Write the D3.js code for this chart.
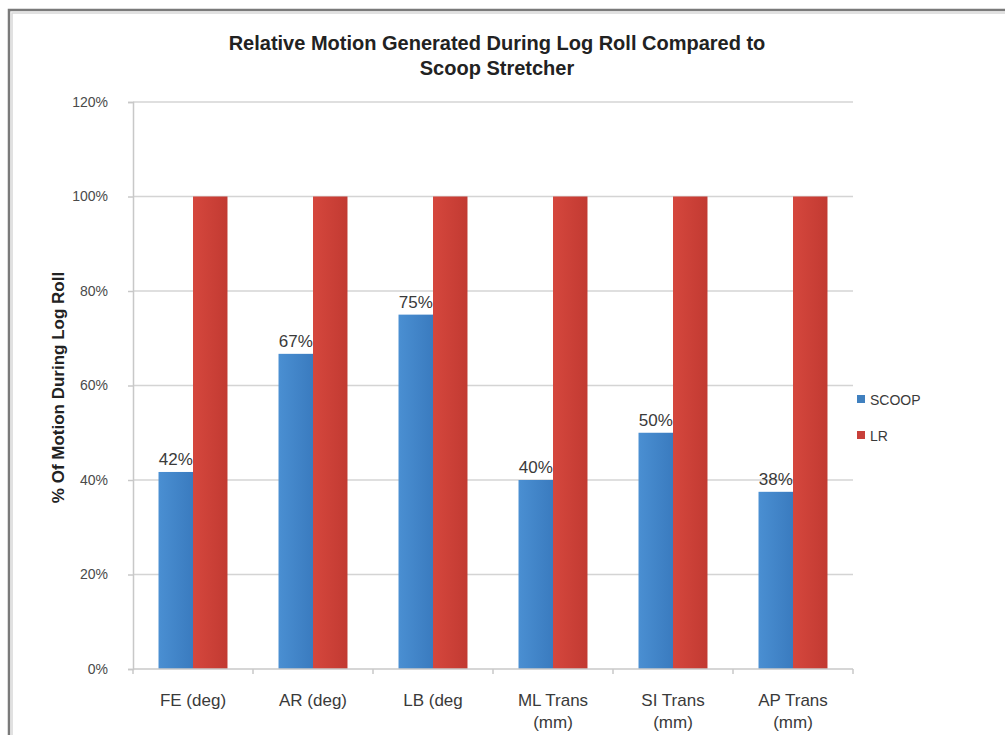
<!DOCTYPE html>
<html>
<head>
<meta charset="utf-8">
<script src="https://cdn.jsdelivr.net/npm/d3@7"></script>
<style>
  body { margin: 0; background: #fff; }
  text { font-family: "Liberation Sans", Arial, sans-serif; }
</style>
</head>
<body>
<svg id="chart"></svg>
<script>
// Données du graphique
const categories = ["FE (deg)", "AR (deg)", "LB (deg", "ML Trans (mm)", "SI Trans (mm)", "AP Trans (mm)"];
const scoopValues = [0.417, 0.667, 0.75, 0.40, 0.50, 0.375];
const lrValues = [1, 1, 1, 1, 1, 1];
const seriesNames = ["SCOOP", "LR"];
const yTicks = [0, 0.2, 0.4, 0.6, 0.8, 1.0, 1.2];

const width = 1005;
const height = 735;
const plot = { left: 133, right: 853, top: 102, bottom: 669 };

const svg = d3.select("#chart")
    .attr("width", width)
    .attr("height", height);

// Dégradés des barres
const defs = svg.append("defs");
function gradient(id, c1, c2) {
    const gr = defs.append("linearGradient").attr("id", id)
        .attr("x1", 0).attr("x2", 1).attr("y1", 0).attr("y2", 0);
    gr.append("stop").attr("offset", "0%").attr("stop-color", c1);
    gr.append("stop").attr("offset", "100%").attr("stop-color", c2);
}
gradient("gBlue", "#4a8fd2", "#3a7bbf");
gradient("gRed", "#d5473d", "#c23a32");

// Cadre gris
svg.append("path")
    .attr("d", `M9,${height} V10 H${width}`)
    .attr("fill", "none")
    .attr("stroke", "#7a7a7a")
    .attr("stroke-width", 2.5);
svg.append("path")
    .attr("d", `M12,${height} V13 H${width}`)
    .attr("fill", "none")
    .attr("stroke", "#d8d8d8")
    .attr("stroke-width", 1.5);

// Échelles
const x = d3.scaleBand()
    .domain(categories)
    .range([plot.left, plot.right]);

const x1 = d3.scaleBand()
    .domain(seriesNames)
    .range([0, x.bandwidth()])
    .paddingInner(0)
    .paddingOuter(0.74);

const y = d3.scaleLinear()
    .domain([0, 1.2])
    .range([plot.bottom, plot.top]);

// Grille
svg.append("g")
    .selectAll("line")
    .data(yTicks.filter(d => d > 0))
    .enter().append("line")
    .attr("x1", plot.left)
    .attr("x2", plot.right)
    .attr("y1", d => y(d))
    .attr("y2", d => y(d))
    .attr("stroke", "#d4d4d4")
    .attr("stroke-width", 1.5);

// Axe Y
const yAxis = svg.append("g")
    .attr("transform", `translate(${plot.left},0)`)
    .call(d3.axisLeft(y).tickValues(yTicks).tickFormat(d3.format(".0%")).tickSize(5).tickPadding(20));
yAxis.select(".domain").attr("stroke", "#c8c8c8").attr("stroke-width", 1.5);
yAxis.selectAll(".tick line").attr("stroke", "#c8c8c8").attr("stroke-width", 1.5);
yAxis.selectAll("text")
    .attr("fill", "#4a4a4a")
    .style("font-size", "14px")
    .style("font-family", "'Liberation Sans', Arial, sans-serif");

// Barres
const data = categories.map((c, i) => ({
    cat: c,
    values: [
        { key: "SCOOP", value: scoopValues[i] },
        { key: "LR", value: lrValues[i] }
    ]
}));

const groups = svg.append("g")
    .selectAll("g")
    .data(data)
    .enter().append("g")
    .attr("transform", d => `translate(${x(d.cat)},0)`);

groups.selectAll("rect")
    .data(d => d.values)
    .enter().append("rect")
    .attr("x", d => x1(d.key))
    .attr("width", x1.bandwidth())
    .attr("y", d => y(d.value))
    .attr("height", d => y(0) - y(d.value))
    .attr("fill", d => d.key === "SCOOP" ? "url(#gBlue)" : "url(#gRed)");

// Étiquettes des valeurs SCOOP
groups.append("text")
    .attr("x", x1("SCOOP") + x1.bandwidth() / 2)
    .attr("y", d => y(d.values[0].value) - 7)
    .attr("text-anchor", "middle")
    .attr("fill", "#3a3a3a")
    .style("font-size", "17px")
    .text(d => d3.format(".0%")(d.values[0].value));

// Axe X
svg.append("line")
    .attr("x1", plot.left).attr("x2", plot.right)
    .attr("y1", plot.bottom).attr("y2", plot.bottom)
    .attr("stroke", "#c8c8c8").attr("stroke-width", 1.5);

svg.append("g")
    .selectAll("line")
    .data(d3.range(categories.length + 1))
    .enter().append("line")
    .attr("x1", i => plot.left + i * x.bandwidth())
    .attr("x2", i => plot.left + i * x.bandwidth())
    .attr("y1", plot.bottom)
    .attr("y2", plot.bottom + 5)
    .attr("stroke", "#c8c8c8").attr("stroke-width", 1.5);

// Libellés des catégories (sur deux lignes si besoin)
const xLabels = svg.append("g")
    .selectAll("text")
    .data(categories)
    .enter().append("text")
    .attr("x", d => x(d) + x.bandwidth() / 2)
    .attr("y", plot.bottom + 37)
    .attr("text-anchor", "middle")
    .attr("fill", "#3a3a3a")
    .style("font-size", "17px");

xLabels.each(function(d) {
    const parts = d.includes("Trans") ? [d.replace(" (mm)", ""), "(mm)"] : [d];
    parts.forEach((p, i) => {
        d3.select(this).append("tspan")
            .attr("x", x(d) + x.bandwidth() / 2)
            .attr("dy", i === 0 ? 0 : 22)
            .text(p);
    });
});

// Titre
svg.append("text")
    .attr("x", 497)
    .attr("y", 50)
    .attr("text-anchor", "middle")
    .attr("fill", "#222")
    .style("font-size", "20px")
    .style("font-weight", "bold")
    .selectAll("tspan")
    .data(["Relative Motion Generated During Log Roll Compared to", "Scoop Stretcher"])
    .enter().append("tspan")
    .attr("x", 497)
    .attr("dy", (d, i) => i === 0 ? 0 : 25)
    .text(d => d);

// Titre de l'axe Y
svg.append("text")
    .attr("transform", `translate(64,${(plot.top + plot.bottom) / 2 + 2}) rotate(-90)`)
    .attr("text-anchor", "middle")
    .attr("fill", "#222")
    .style("font-size", "17px")
    .style("font-weight", "bold")
    .text("% Of Motion During Log Roll");

// Légende
const legend = svg.append("g")
    .selectAll("g")
    .data(seriesNames)
    .enter().append("g")
    .attr("transform", (d, i) => `translate(857,${405 + i * 36})`);

legend.append("rect")
    .attr("x", 0).attr("y", -10)
    .attr("width", 8).attr("height", 8)
    .attr("fill", d => d === "SCOOP" ? "#4080bf" : "#c8403a");

legend.append("text")
    .attr("x", 13)
    .attr("y", 0)
    .attr("fill", "#3a3a3a")
    .style("font-size", "14px")
    .text(d => d);
</script>
</body>
</html>
